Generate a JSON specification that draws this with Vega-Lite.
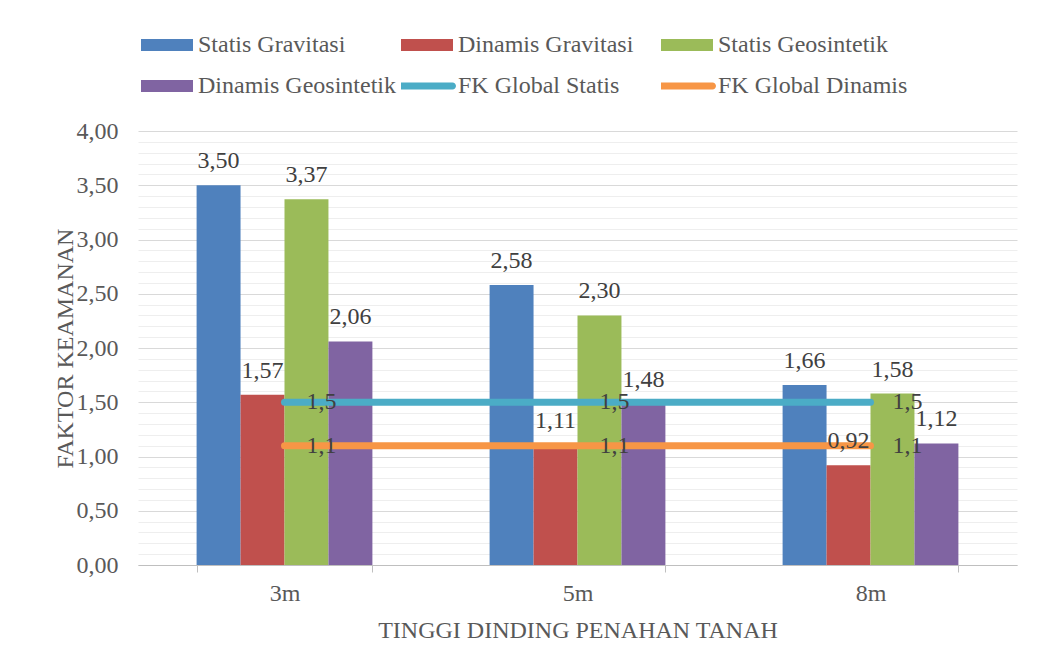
{
  "$schema": "https://vega.github.io/schema/vega-lite/v6.json",
  "width": 879,
  "height": 434,
  "autosize": "none",
  "padding": {"left": 138, "top": 131, "right": 20, "bottom": 106},
  "background": "white",
  "config": {
    "locale": {"number": {"decimal": ",", "thousands": ".", "grouping": [3], "currency": ["", ""]}},
    "font": "Liberation Serif",
    "view": {"stroke": null},
    "axisX": {
      "tickBand": "extent",
      "ticks": true,
      "tickSize": 7,
      "tickColor": "#bfbfbf",
      "domainColor": "#bfbfbf",
      "labelAngle": 0,
      "labelFont": "Liberation Serif",
      "labelFontSize": 24,
      "labelColor": "#595959",
      "labelPadding": 9,
      "titleFont": "Liberation Serif",
      "titleFontSize": 24,
      "titleColor": "#595959",
      "titleFontWeight": "normal",
      "titlePadding": 13,
      "grid": false
    }
  },
  "datasets": {
    "bars": [
      {"tinggi": "3m", "series": "Statis Gravitasi", "value": 3.50},
      {"tinggi": "3m", "series": "Dinamis Gravitasi", "value": 1.57},
      {"tinggi": "3m", "series": "Statis Geosintetik", "value": 3.37},
      {"tinggi": "3m", "series": "Dinamis Geosintetik", "value": 2.06},
      {"tinggi": "5m", "series": "Statis Gravitasi", "value": 2.58},
      {"tinggi": "5m", "series": "Dinamis Gravitasi", "value": 1.11},
      {"tinggi": "5m", "series": "Statis Geosintetik", "value": 2.30},
      {"tinggi": "5m", "series": "Dinamis Geosintetik", "value": 1.48},
      {"tinggi": "8m", "series": "Statis Gravitasi", "value": 1.66},
      {"tinggi": "8m", "series": "Dinamis Gravitasi", "value": 0.92},
      {"tinggi": "8m", "series": "Statis Geosintetik", "value": 1.58},
      {"tinggi": "8m", "series": "Dinamis Geosintetik", "value": 1.12}
    ],
    "lines": [
      {"tinggi": "3m", "series": "FK Global Statis", "value": 1.5},
      {"tinggi": "5m", "series": "FK Global Statis", "value": 1.5},
      {"tinggi": "8m", "series": "FK Global Statis", "value": 1.5},
      {"tinggi": "3m", "series": "FK Global Dinamis", "value": 1.1},
      {"tinggi": "5m", "series": "FK Global Dinamis", "value": 1.1},
      {"tinggi": "8m", "series": "FK Global Dinamis", "value": 1.1}
    ]
  },
  "layer": [
    {
      "data": {"name": "bars"},
      "mark": {"type": "bar"},
      "encoding": {
        "x": {"field": "tinggi", "type": "nominal", "sort": ["3m", "5m", "8m"], "scale": {"paddingInner": 0.4, "paddingOuter": 0.2}, "title": "TINGGI DINDING PENAHAN TANAH"},
        "xOffset": {"field": "series", "type": "nominal", "sort": ["Statis Gravitasi", "Dinamis Gravitasi", "Statis Geosintetik", "Dinamis Geosintetik"], "scale": {"paddingInner": 0, "paddingOuter": 0}},
        "y": {
          "field": "value", "type": "quantitative", "scale": {"domain": [0, 4]},
          "title": "FAKTOR KEAMANAN",
          "axis": {
            "values": [0, 0.5, 1, 1.5, 2, 2.5, 3, 3.5, 4],
            "format": ".2f",
            "grid": true, "gridColor": "#d9d9d9", "gridWidth": 1,
            "domain": false, "ticks": false,
            "labelPadding": 20, "labelFont": "Liberation Serif", "labelFontSize": 24, "labelColor": "#595959",
            "titleFont": "Liberation Serif", "titleFontSize": 24, "titleColor": "#595959", "titleFontWeight": "normal",
            "titleX": -73, "titleY": 217, "titleAngle": -90, "titleBaseline": "middle", "titleAlign": "center"
          }
        },
        "color": {
          "field": "series", "type": "nominal",
          "scale": {
            "domain": ["Statis Gravitasi", "Dinamis Gravitasi", "Statis Geosintetik", "Dinamis Geosintetik", "FK Global Statis", "FK Global Dinamis"],
            "range": ["#4F81BD", "#C0504D", "#9BBB59", "#8064A2", "#4BACC6", "#F79646"]
          },
          "legend": {
            "orient": "none", "legendX": 3, "legendY": -97,
            "direction": "horizontal", "columns": 3, "gridAlign": "all",
            "columnPadding": 5, "rowPadding": 17, "clipHeight": 22,
            "title": null, "padding": 0,
            "labelFont": "Liberation Serif", "labelFontSize": 24, "labelColor": "#595959",
            "labelOffset": 5, "labelLimit": 300,
            "symbolSize": 2704, "symbolType": "M-1,-0.23H1V0.23H-1Z", "symbolStrokeWidth": 0,
            "encode": {
              "symbols": {
                "update": {
                  "shape": {"signal": "indexof(['FK Global Statis','FK Global Dinamis'], datum.value) >= 0 ? 'M-0.98,-0.135H0.98A0.135,0.135 0 0 1 0.98,0.135H-0.98A0.135,0.135 0 0 1 -0.98,-0.135Z' : 'M-1,-0.23H1V0.23H-1Z'"},
                  "fill": {"scale": "color", "field": "value"},
                  "stroke": {"value": "transparent"},
                  "opacity": {"value": 1}
                }
              }
            }
          }
        }
      }
    },
    {
      "data": {"name": "lines"},
      "mark": {"type": "line", "strokeWidth": 7, "strokeCap": "round"},
      "encoding": {
        "x": {"field": "tinggi", "type": "nominal", "sort": ["3m", "5m", "8m"], "scale": {"paddingInner": 0.4, "paddingOuter": 0.2}, "title": "TINGGI DINDING PENAHAN TANAH"},
        "y": {
          "field": "value", "type": "quantitative", "scale": {"domain": [0, 4]}, "title": null,
          "axis": {
            "orient": "right",
            "values": [0.1, 0.2, 0.3, 0.4, 0.6, 0.7, 0.8, 0.9, 1.1, 1.2, 1.3, 1.4, 1.6, 1.7, 1.8, 1.9, 2.1, 2.2, 2.3, 2.4, 2.6, 2.7, 2.8, 2.9, 3.1, 3.2, 3.3, 3.4, 3.6, 3.7, 3.8, 3.9],
            "grid": true, "gridColor": "#eeeeee", "gridWidth": 1,
            "labels": false, "ticks": false, "domain": false
          }
        },
        "color": {"field": "series", "type": "nominal"}
      }
    },
    {
      "data": {"name": "bars"},
      "mark": {"type": "text", "baseline": "bottom", "dy": -12, "fontSize": 24, "color": "#404040", "font": "Liberation Serif"},
      "encoding": {
        "x": {"field": "tinggi", "type": "nominal", "sort": ["3m", "5m", "8m"], "scale": {"paddingInner": 0.4, "paddingOuter": 0.2}, "title": "TINGGI DINDING PENAHAN TANAH"},
        "xOffset": {"field": "series", "type": "nominal", "sort": ["Statis Gravitasi", "Dinamis Gravitasi", "Statis Geosintetik", "Dinamis Geosintetik"], "scale": {"paddingInner": 0, "paddingOuter": 0}},
        "y": {"field": "value", "type": "quantitative", "scale": {"domain": [0, 4]}, "axis": null},
        "text": {"field": "value", "type": "quantitative", "format": ".2f"}
      }
    },
    {
      "data": {"name": "lines"},
      "mark": {"type": "text", "align": "left", "baseline": "middle", "dx": 22, "fontSize": 24, "color": "#404040", "font": "Liberation Serif"},
      "encoding": {
        "x": {"field": "tinggi", "type": "nominal", "sort": ["3m", "5m", "8m"], "scale": {"paddingInner": 0.4, "paddingOuter": 0.2}, "title": "TINGGI DINDING PENAHAN TANAH"},
        "y": {"field": "value", "type": "quantitative", "scale": {"domain": [0, 4]}, "axis": null},
        "text": {"field": "value", "type": "quantitative", "format": ".1f"}
      }
    }
  ],
  "resolve": {"axis": {"y": "independent"}}
}
